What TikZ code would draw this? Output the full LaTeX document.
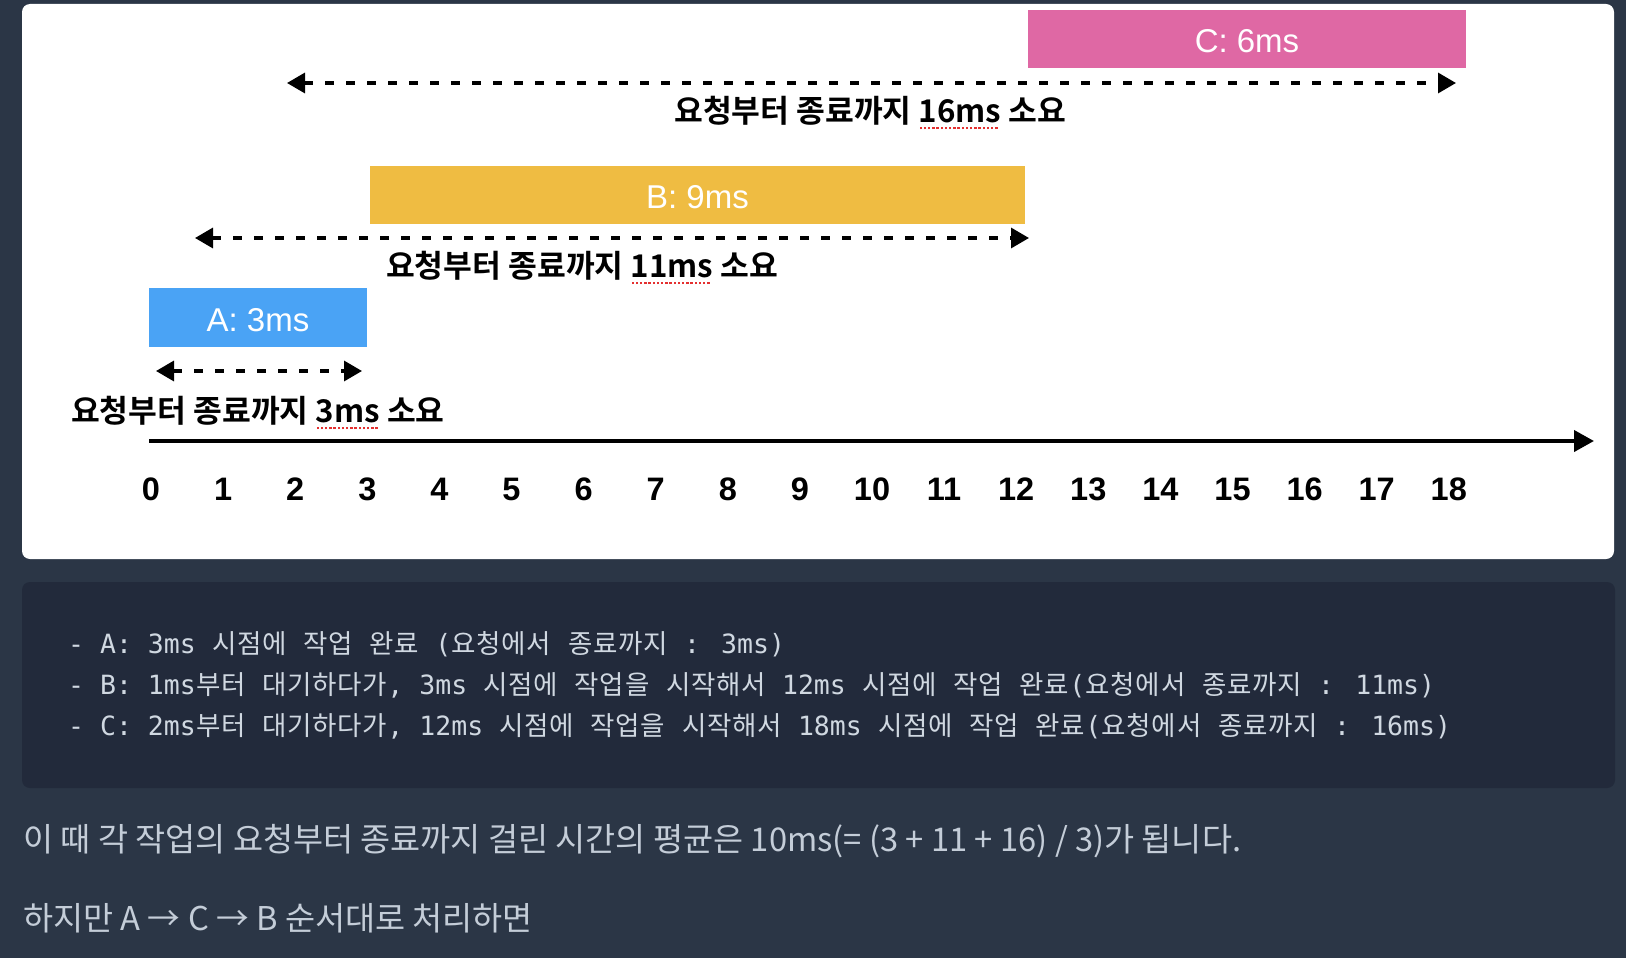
\documentclass[tikz,border=0pt]{standalone}
\usepackage{fontspec}
\usetikzlibrary{arrows.meta}
\setmainfont{Liberation Sans}
\newfontfamily\krfont{Noto Sans CJK KR}[BoldFont={Noto Sans CJK KR Bold}]
\newfontfamily\monofont{DejaVu Sans Mono}
\definecolor{pagebg}{RGB}{43,54,70}
\definecolor{codebg}{RGB}{34,42,59}
\definecolor{codefg}{RGB}{208,216,225}
\definecolor{parafg}{RGB}{196,205,216}
\definecolor{boxA}{RGB}{74,163,245}
\definecolor{boxB}{RGB}{239,188,66}
\definecolor{boxC}{RGB}{223,104,164}
\definecolor{squigred}{RGB}{228,48,48}
\newcommand\squig[1]{\setbox0=\hbox{#1}\rlap{\raisebox{-7pt}{\color{squigred}\leaders\hbox to 4.2pt{\hss\rule{2.4pt}{2.4pt}\hss}\hskip\wd0}}\box0\relax}
\def\Kloop#1{\ifx#1\relax\else\makebox[25.1pt]{#1}\expandafter\Kloop\fi}
\newcommand\K[1]{{\krfont\fontsize{26.5}{30}\selectfont\Kloop#1\relax}}
\begin{document}
\begin{tikzpicture}[x=1pt,y=-1pt,
  taskbox/.style={draw=none, inner sep=0pt},
  boxlabel/.style={inner sep=0pt, text=white, yshift=-2.5pt, font=\fontsize{33}{38}\selectfont},
  spanarrow/.style={line width=3.3pt, dash pattern=on 9pt off 12pt,
    {Triangle[length=18pt,width=20pt]}-{Triangle[length=18pt,width=20pt]}},
  spanlabel/.style={inner sep=0pt, anchor=base west, font=\krfont\bfseries\fontsize{31.3}{36}\selectfont},
  ticklabel/.style={inner sep=0pt, font=\bfseries\fontsize{32.5}{38}\selectfont},
  codeline/.style={inner sep=0pt, anchor=base west, text=codefg, font=\monofont\fontsize{26.5}{32}\selectfont},
  paraline/.style={inner sep=0pt, anchor=base west, text=parafg, font=\krfont\fontsize{32.7}{38}\selectfont}]
\path[use as bounding box] (0,0) rectangle (1626,958);
\fill[pagebg] (0,0) rectangle (1626,958);
\fill[white, rounded corners=8pt] (22,4) rectangle (1614,559);

% task boxes
\node[taskbox, fill=boxC, minimum width=438pt, minimum height=58pt] (C) at (1247,39) {};
\node[taskbox, fill=boxB, minimum width=655pt, minimum height=58pt] (B) at (697.5,195) {};
\node[taskbox, fill=boxA, minimum width=218pt, minimum height=59pt] (A) at (258,317.5) {};
\node[boxlabel] (Ct) at (C.center) {C: 6ms};
\node[boxlabel] (Bt) at (B.center) {B: 9ms};
\node[boxlabel] (At) at (A.center) {A: 3ms};

% span arrows
\coordinate (cL) at (287,83);  \coordinate (cR) at (1456,83);
\coordinate (bL) at (195,238); \coordinate (bR) at (1029,238);
\coordinate (aL) at (156,371); \coordinate (aR) at (362,371);
\draw[spanarrow] (cL) -- (cR);
\draw[spanarrow] (bL) -- (bR);
\draw[spanarrow] (aL) -- (aR);

% span labels
\node[spanlabel] (tC) at (674,122) {요청부터 종료까지 \squig{16ms} 소요};
\node[spanlabel] (tB) at (386,277) {요청부터 종료까지 \squig{11ms} 소요};
\node[spanlabel] (tA) at (71,422) {요청부터 종료까지 \squig{3ms} 소요};

% time axis
\coordinate (ax0) at (149,441); \coordinate (ax1) at (1594,441);
\draw[line width=4pt, -{Triangle[length=20pt,width=21pt]}] (ax0) -- (ax1);
\foreach \i in {0,...,18} \node[ticklabel] (t\i) at ({151+72.1*\i},489) {\i};

% code block
\fill[codebg, rounded corners=8pt] (22,582) rectangle (1615,788);
\node[codeline] (l1) at (68,653) {- A: 3ms \K{시점에} \K{작업} \K{완료} (\K{요청에서} \K{종료까지} : 3ms)};
\node[codeline] (l2) at (68,694.5) {- B: 1ms\K{부터} \K{대기하다가}, 3ms \K{시점에} \K{작업을} \K{시작해서} 12ms \K{시점에} \K{작업} \K{완료}(\K{요청에서} \K{종료까지} : 11ms)};
\node[codeline] (l3) at (68,735.5) {- C: 2ms\K{부터} \K{대기하다가}, 12ms \K{시점에} \K{작업을} \K{시작해서} 18ms \K{시점에} \K{작업} \K{완료}(\K{요청에서} \K{종료까지} : 16ms)};

% paragraphs
\node[paraline] (p1) at (23,851) {이 때 각 작업의 요청부터 종료까지 걸린 시간의 평균은 10ms(= (3 + 11 + 16) / 3)가 됩니다.};
\node[paraline] (p2) at (23,930) {하지만 A → C → B 순서대로 처리하면};
\end{tikzpicture}
\end{document}
